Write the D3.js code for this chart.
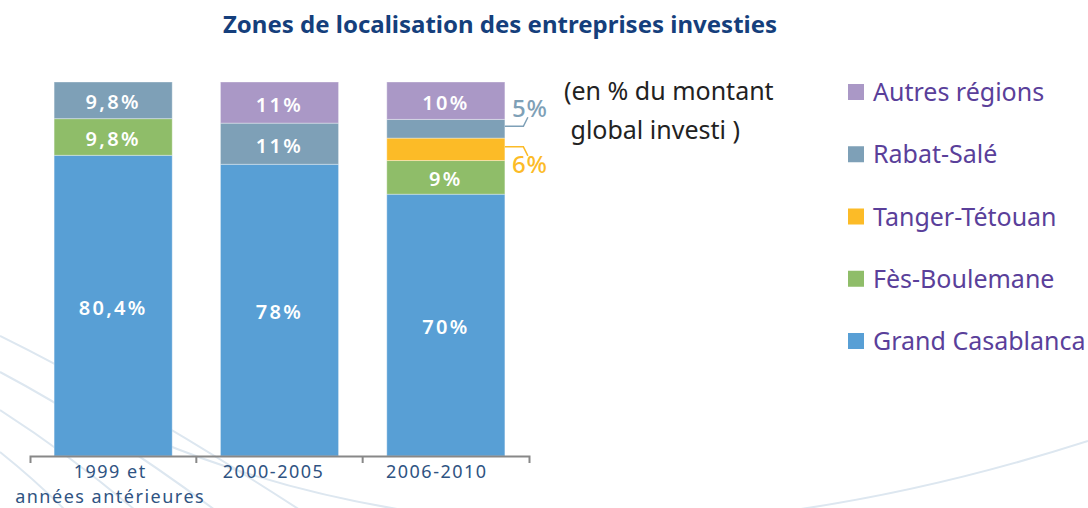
<!DOCTYPE html>
<html>
<head>
<meta charset="utf-8">
<script src="https://cdn.jsdelivr.net/npm/d3@7"></script>
<style>
  body { margin: 0; background: #fff; }
  text { font-family: "Noto Sans", "Open Sans", sans-serif; }
</style>
</head>
<body>
<div id="chart"></div>
<script>
// data (% du montant global investi)
var periods = ["1999 et|années antérieures", "2000-2005", "2006-2010"];
var regions = ["Grand Casablanca", "Fès-Boulemane", "Tanger-Tétouan", "Rabat-Salé", "Autres régions"];
var casablanca = [80.4, 78, 70];
var fes = [9.8, 0, 9];
var tanger = [0, 0, 6];
var rabat = [9.8, 11, 5];
var autres = [0, 11, 10];
var colors = ["#589fd5", "#8fbd69", "#fcbb27", "#7ea0b7", "#aa98c6"];

var width = 1088, height = 508;

var svg = d3.select("#chart")
    .append("svg")
    .attr("width", width)
    .attr("height", height);

// faint decorative swooshes in the background
var swooshes = [
    "M0,336 Q130,400 300,510",
    "M0,372 Q100,425 215,510",
    "M0,410 Q70,455 135,510",
    "M0,452 Q35,480 65,510",
    "M150,438 Q560,610 1088,441"
];
svg.selectAll(".swoosh")
    .data(swooshes)
    .enter()
    .append("path")
    .attr("class", "swoosh")
    .attr("d", function(d) { return d; })
    .attr("fill", "none")
    .attr("stroke", "#dde7f0")
    .attr("stroke-width", 2);

// build rows for the stack
var table = periods.map(function(p, i) {
    var row = {period: p};
    row[regions[0]] = casablanca[i];
    row[regions[1]] = fes[i];
    row[regions[2]] = tanger[i];
    row[regions[3]] = rabat[i];
    row[regions[4]] = autres[i];
    return row;
});
var series = d3.stack().keys(regions)(table);

// scales
var x = d3.scaleBand()
    .domain(periods)
    .range([30, 529]);
var barPad = 0.145;
var y = d3.scaleLinear()
    .domain([0, 100])
    .range([456, 82]);
var color = d3.scaleOrdinal().domain(regions).range(colors);

// title
svg.append("text")
    .attr("x", 500)
    .attr("y", 33)
    .attr("text-anchor", "middle")
    .attr("font-size", 24)
    .attr("font-weight", 700)
    .attr("fill", "#153f7c")
    .text("Zones de localisation des entreprises investies");

// bars
var groups = svg.selectAll(".serie")
    .data(series)
    .enter()
    .append("g")
    .attr("fill", function(d) { return color(d.key); });

groups.selectAll("rect")
    .data(function(d) { return d.filter(function(s) { return s[1] - s[0] > 0; }); })
    .enter()
    .append("rect")
    .attr("x", function(d) { return x(d.data.period) + x.bandwidth() * barPad; })
    .attr("width", x.bandwidth() * (1 - 2 * barPad))
    .attr("y", function(d) { return y(d[1]); })
    .attr("height", function(d) { return y(d[0]) - y(d[1]); })
    .attr("stroke", "rgba(255,255,255,0.35)")
    .attr("stroke-width", 1);

function fmt(v) {
    return String(v).replace(".", ",") + "%";
}

// labels inside the bars
var inside = [];
var outside = [];
series.forEach(function(s) {
    s.forEach(function(d) {
        var v = d[1] - d[0];
        if (v <= 0) return;
        var item = {key: s.key, v: v, d: d};
        if (v < 8) outside.push(item); else inside.push(item);
    });
});
// highest segment first: it gets the upward leader
outside.sort(function(a, b) { return b.d[1] - a.d[1]; });

svg.selectAll(".inlabel")
    .data(inside)
    .enter()
    .append("text")
    .attr("x", function(e) { return x(e.d.data.period) + x.bandwidth() / 2; })
    .attr("y", function(e) { return (y(e.d[0]) + y(e.d[1])) / 2 + 9; })
    .attr("text-anchor", "middle")
    .attr("font-size", 20)
    .attr("font-weight", 600)
    .attr("letter-spacing", 2.3)
    .attr("fill", "#fff")
    .text(function(e) { return fmt(Math.round(e.v * 10) / 10); });

// small segments get a label outside with a leader line (first up, second down)
outside.forEach(function(e, i) {
    var x0 = x(e.d.data.period) + x.bandwidth() * (1 - barPad);
    var yc = (y(e.d[0]) + y(e.d[1])) / 2 - 2.5;
    var dir = i === 0 ? -1 : 1;
    var c = color(e.key);
    svg.append("path")
        .attr("d", d3.line()([[x0, yc], [x0 + 18.5, yc], [x0 + 23, yc + dir * 9]]))
        .attr("fill", "none")
        .attr("stroke", c)
        .attr("stroke-width", 1.5);
    svg.append("text")
        .attr("x", x0 + 7)
        .attr("y", dir < 0 ? yc - 9 : yc + 26)
        .attr("font-size", 24)
        .attr("font-weight", 500)
        .attr("letter-spacing", 1)
        .attr("fill", c)
        .text(fmt(e.v));
});

// x axis: outer ticks at the ends, inner ticks at the band edges
var axis = svg.append("g")
    .attr("transform", "translate(0,456)")
    .call(d3.axisBottom(x).tickSize(0).tickSizeOuter(7).tickPadding(0));
axis.select(".domain")
    .attr("stroke", "#888")
    .attr("stroke-width", 2);
axis.selectAll(".tick").remove();
axis.selectAll(".edge")
    .data(periods.slice(1))
    .enter()
    .append("line")
    .attr("x1", function(d) { return x(d); })
    .attr("x2", function(d) { return x(d); })
    .attr("y1", 0)
    .attr("y2", 7)
    .attr("stroke", "#888")
    .attr("stroke-width", 2);

// tick labels, one text per line
var labelLines = [];
periods.forEach(function(d, i) {
    d.split("|").forEach(function(p, j) {
        labelLines.push({period: d, i: i, j: j, text: p});
    });
});
axis.selectAll(".lab")
    .data(labelLines)
    .enter()
    .append("text")
    .attr("x", function(l) { return x(l.period) + x.bandwidth() / 2 - 3 - 3 * l.i; })
    .attr("y", function(l) { return (l.i === 2 ? 21.5 : 22) + l.j * 24.5; })
    .attr("text-anchor", "middle")
    .attr("font-size", 18)
    .attr("letter-spacing", 1.5)
    .attr("fill", "#2f5382")
    .text(function(l) { return l.text; });

// unit note
svg.append("text")
    .attr("font-size", 25)
    .attr("fill", "#222")
    .selectAll("tspan")
    .data(["(en % du montant", " global investi )"])
    .enter()
    .append("tspan")
    .attr("x", 564)
    .attr("y", function(d, i) { return 100 + i * 39; })
    .style("white-space", "pre")
    .text(function(d) { return d; });

// legend, top item is the top of the stack
var legend = svg.selectAll(".legend")
    .data(regions.slice().reverse())
    .enter()
    .append("g")
    .attr("transform", function(d, i) { return "translate(848," + (92 + i * 62.25) + ")"; });
legend.append("rect")
    .attr("x", 0)
    .attr("y", -8)
    .attr("width", 16)
    .attr("height", 16)
    .attr("fill", function(d) { return color(d); });
legend.append("text")
    .attr("x", 25)
    .attr("y", 9)
    .attr("font-size", 25)
    .attr("fill", "#5a3f9a")
    .text(function(d) { return d; });
</script>
</body>
</html>
